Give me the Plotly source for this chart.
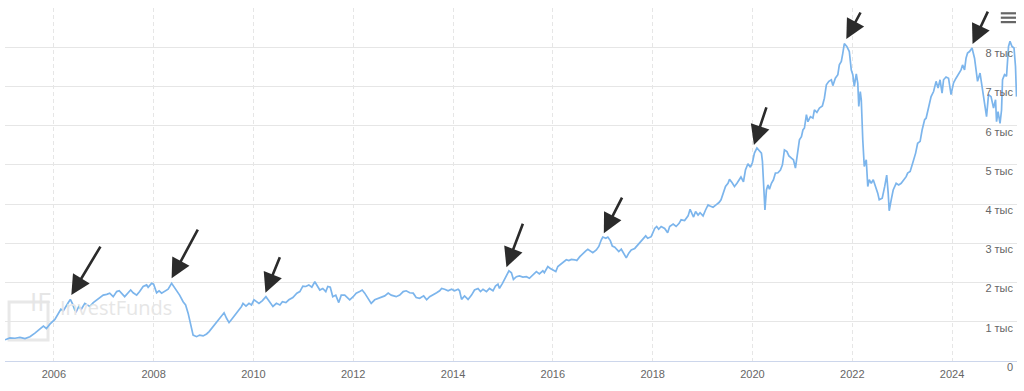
import datetime as dt
import plotly.graph_objects as go

# ---- data (decimal years, values) ----
years = [
    2005.02, 2005.12, 2005.22, 2005.32, 2005.42, 2005.52, 2005.62, 2005.72, 2005.79, 2005.85,
    2005.92, 2006.02, 2006.09, 2006.14, 2006.19, 2006.25, 2006.29, 2006.33, 2006.37, 2006.42,
    2006.45, 2006.50, 2006.55, 2006.62, 2006.67, 2006.72, 2006.79, 2006.86, 2006.92, 2006.99,
    2007.06, 2007.12, 2007.19, 2007.26, 2007.31, 2007.36, 2007.42, 2007.49, 2007.54, 2007.59,
    2007.66, 2007.72, 2007.79, 2007.86, 2007.89, 2007.96, 2008.00, 2008.06, 2008.11, 2008.16,
    2008.22, 2008.29, 2008.36, 2008.40, 2008.46, 2008.52, 2008.59, 2008.64, 2008.69, 2008.72,
    2008.76, 2008.79, 2008.86, 2008.92, 2008.99, 2009.06, 2009.11, 2009.16, 2009.23, 2009.29,
    2009.36, 2009.41, 2009.46, 2009.51, 2009.56, 2009.63, 2009.69, 2009.76, 2009.79, 2009.85,
    2009.91, 2009.96, 2010.01, 2010.06, 2010.11, 2010.18, 2010.25, 2010.29, 2010.34, 2010.39,
    2010.46, 2010.53, 2010.58, 2010.65, 2010.71, 2010.79, 2010.87, 2010.93, 2010.99, 2011.05,
    2011.11, 2011.17, 2011.23, 2011.27, 2011.33, 2011.39, 2011.45, 2011.49, 2011.54, 2011.59,
    2011.65, 2011.71, 2011.76, 2011.83, 2011.87, 2011.93, 2012.00, 2012.06, 2012.13, 2012.18,
    2012.23, 2012.30, 2012.36, 2012.43, 2012.50, 2012.56, 2012.63, 2012.70, 2012.76, 2012.86,
    2012.93, 2013.00, 2013.06, 2013.13, 2013.20, 2013.26, 2013.33, 2013.41, 2013.47, 2013.53,
    2013.60, 2013.67, 2013.73, 2013.77, 2013.83, 2013.90, 2013.97, 2014.03, 2014.10, 2014.13,
    2014.17, 2014.23, 2014.30, 2014.37, 2014.43, 2014.50, 2014.55, 2014.60, 2014.67, 2014.73,
    2014.80, 2014.85, 2014.90, 2014.93, 2014.99, 2015.03, 2015.08, 2015.12, 2015.17, 2015.21,
    2015.27, 2015.33, 2015.40, 2015.47, 2015.53, 2015.60, 2015.67, 2015.73, 2015.80, 2015.83,
    2015.90, 2015.95, 2016.00, 2016.06, 2016.10, 2016.17, 2016.22, 2016.27, 2016.32, 2016.37,
    2016.44, 2016.48, 2016.54, 2016.59, 2016.66, 2016.70, 2016.75, 2016.80, 2016.87, 2016.92,
    2016.97, 2017.00, 2017.06, 2017.10, 2017.15, 2017.19, 2017.24, 2017.28, 2017.32, 2017.37,
    2017.42, 2017.47, 2017.52, 2017.57, 2017.64, 2017.70, 2017.74, 2017.79, 2017.86, 2017.90,
    2017.97, 2018.04, 2018.08, 2018.12, 2018.17, 2018.24, 2018.30, 2018.34, 2018.41, 2018.47,
    2018.53, 2018.57, 2018.64, 2018.71, 2018.75, 2018.79, 2018.82, 2018.86, 2018.91, 2018.95,
    2019.01, 2019.06, 2019.11, 2019.15, 2019.21, 2019.27, 2019.33, 2019.37, 2019.41, 2019.46,
    2019.51, 2019.54, 2019.59, 2019.64, 2019.69, 2019.73, 2019.77, 2019.82, 2019.86, 2019.91,
    2019.96, 2020.00, 2020.04, 2020.09, 2020.13, 2020.18, 2020.20, 2020.22, 2020.25, 2020.28,
    2020.31, 2020.34, 2020.38, 2020.42, 2020.46, 2020.51, 2020.56, 2020.60, 2020.64, 2020.69,
    2020.73, 2020.78, 2020.82, 2020.86, 2020.91, 2020.94, 2020.98, 2021.01, 2021.04, 2021.08,
    2021.11, 2021.16, 2021.21, 2021.24, 2021.29, 2021.34, 2021.40, 2021.44, 2021.48, 2021.53,
    2021.58, 2021.61, 2021.66, 2021.71, 2021.74, 2021.78, 2021.81, 2021.84, 2021.89, 2021.94,
    2021.98, 2022.01, 2022.04, 2022.08, 2022.11, 2022.13, 2022.16, 2022.18, 2022.21, 2022.24,
    2022.28, 2022.31, 2022.34, 2022.38, 2022.42, 2022.46, 2022.51, 2022.54, 2022.60, 2022.65,
    2022.69, 2022.72, 2022.74, 2022.78, 2022.82, 2022.88, 2022.93, 2022.98, 2023.03, 2023.08,
    2023.11, 2023.16, 2023.21, 2023.27, 2023.31, 2023.36, 2023.40, 2023.45, 2023.48, 2023.53,
    2023.58, 2023.63, 2023.68, 2023.72, 2023.76, 2023.80, 2023.83, 2023.88, 2023.93, 2023.98,
    2024.03, 2024.08, 2024.13, 2024.18, 2024.21, 2024.25, 2024.28, 2024.31, 2024.35, 2024.40,
    2024.45, 2024.48, 2024.51, 2024.56, 2024.60, 2024.65, 2024.69, 2024.73, 2024.78, 2024.83,
    2024.87, 2024.89, 2024.92, 2024.96, 2024.99, 2025.01, 2025.05, 2025.09, 2025.13, 2025.16,
    2025.20, 2025.24, 2025.27, 2025.29,
]
values = [
    540, 590, 580, 600, 570, 620, 710, 820, 890, 830,
    940, 1060, 1220, 1320, 1280, 1430, 1490, 1570, 1470, 1300,
    1260, 1390, 1320, 1470, 1430, 1390, 1490, 1560, 1600, 1680,
    1700, 1730, 1640, 1770, 1790, 1710, 1640, 1740, 1810, 1740,
    1680, 1770, 1900, 1940, 1880, 1980, 1960, 1740, 1790, 1730,
    1770, 1830, 1980, 1900, 1810, 1680, 1510, 1430, 1220, 1050,
    790, 660, 620, 660, 640, 690, 750, 830, 960, 1050,
    1170, 1230, 1090, 980, 1060, 1170, 1260, 1390, 1470, 1400,
    1470, 1430, 1560, 1510, 1470, 1540, 1640, 1570, 1470, 1390,
    1470, 1430, 1510, 1490, 1560, 1620, 1730, 1770, 1910, 1900,
    1940, 1880, 2020, 1940, 1810, 1850, 1770, 1900, 1880, 1640,
    1680, 1490, 1680, 1680, 1640, 1560, 1640, 1730, 1770, 1810,
    1730, 1570, 1470, 1560, 1600, 1640, 1660, 1730, 1680, 1640,
    1680, 1770, 1790, 1740, 1730, 1620, 1600, 1660, 1560, 1640,
    1680, 1740, 1790, 1850, 1830, 1790, 1830, 1790, 1830, 1790,
    1570, 1660, 1570, 1680, 1810, 1850, 1770, 1830, 1770, 1850,
    1790, 1910, 1960, 1850, 1980, 2070, 2220, 2300, 2250, 2080,
    2150, 2170, 2140, 2150, 2110, 2190, 2280, 2220, 2300, 2250,
    2410, 2360, 2320, 2280, 2410, 2490, 2530, 2580, 2560, 2590,
    2580, 2560, 2660, 2730, 2810, 2850, 2810, 2760, 2830, 2920,
    3090, 3160, 3130, 3160, 3070, 2930, 2900, 2830, 2790, 2850,
    2750, 2630, 2750, 2830, 2870, 2960, 3030, 3090, 3190, 3130,
    3170, 3380, 3430, 3360, 3430, 3380, 3270, 3430, 3490, 3430,
    3510, 3600, 3580, 3700, 3870, 3750, 3670, 3810, 3720, 3780,
    3700, 3850, 3980, 3950, 3920, 3980, 4040, 4110, 4280, 4450,
    4530, 4630, 4550, 4450, 4530, 4630, 4690, 4570, 4870, 5030,
    4940, 5060, 5300, 5430, 5380, 5300, 5090, 4530, 3850, 4360,
    4490, 4380, 4530, 4620, 4790, 4800, 4870, 5000, 5380, 5340,
    5230, 5170, 5130, 4920, 5450, 5640, 5720, 5890, 5940, 6280,
    6100, 6230, 6190, 6400, 6340, 6450, 6500, 6700, 7040, 7130,
    7170, 7020, 7210, 7300, 7550, 7640, 7850, 8090, 8020, 7890,
    7420, 7300, 7000, 7320, 7080, 6490, 6870, 6660, 5640, 4960,
    5130, 4450, 4620, 4530, 4620, 4490, 4280, 4110, 4150, 4450,
    4740, 4280, 3830, 4110, 4360, 4530, 4490, 4530, 4620, 4700,
    4790, 4830, 5040, 5300, 5550, 5600, 5890, 6150, 6190, 6490,
    6740, 6870, 7130, 6960, 7170, 6830, 7170, 7240, 7210, 6790,
    7090, 7210, 7300, 7420, 7550, 7420, 7720, 7850, 7890, 7980,
    7720, 7380, 7130, 7340, 7000, 6660, 6230, 6790, 6740, 6450,
    6660, 6100, 6360, 6060, 6400, 7170, 7300, 7260, 8020, 8150,
    8020, 7980, 7510, 6740,
]

# arrows pointing at peaks: target (decimal year, value), tail offset in px
arrow_years = [2006.35, 2008.36, 2010.24, 2015.07, 2017.02, 2020.03, 2021.88, 2024.41]
arrow_values = [1680, 2110, 1740, 2390, 3260, 5510, 8210, 8080]
arrow_dx = [30, 27, 15, 17, 19, 13, 15, 16]
arrow_dy = [-50, -50, -37, -45, -37, -39, -28, -34]

y_tickvals = [0, 1000, 2000, 3000, 4000, 5000, 6000, 7000, 8000, 9000]
y_ticktext = ["0", "1 тыс", "2 тыс", "3 тыс", "4 тыс", "5 тыс", "6 тыс", "7 тыс", "8 тыс", ""]
x_range = [2005.02, 2025.30]


def to_date(y):
    yr = int(y)
    start = dt.datetime(yr, 1, 1)
    days = 366 if (yr % 4 == 0) else 365
    return start + dt.timedelta(days=(y - yr) * days)


dates = [to_date(y) for y in years]

fig = go.Figure()
fig.add_trace(go.Scatter(
    x=dates, y=values, mode="lines",
    line=dict(color="#7cb5ec", width=1.7),
    hoverinfo="skip", showlegend=False,
))

for ay_, av, dx, dy in zip(arrow_years, arrow_values, arrow_dx, arrow_dy):
    fig.add_annotation(
        x=to_date(ay_), y=av, ax=dx, ay=dy, text="",
        showarrow=True, arrowhead=2, arrowsize=1.5, arrowwidth=2.6,
        arrowcolor="#2b2b2b", standoff=0,
    )

# watermark logo + name
fig.add_shape(type="rect", xref="paper", yref="paper",
              x0=0.004, x1=0.0425, y0=0.0595, y1=0.167,
              line=dict(color="#e8e8e8", width=3), layer="below")
fig.add_annotation(
    xref="paper", yref="paper", x=0.0232, y=0.113, text="IF",
    showarrow=False, font=dict(family="Open Sans", size=26, color="#e6e6e6"),
)
fig.add_annotation(
    xref="paper", yref="paper", x=0.052, y=0.108, xanchor="left", text="InvestFunds",
    showarrow=False, font=dict(family="Open Sans", size=20, color="#e6e6e6"),
)

# hamburger menu icon
for yy in [0.985, 0.9725, 0.960]:
    fig.add_shape(type="line", xref="paper", yref="paper",
                  x0=0.984, x1=0.999, y0=yy, y1=yy,
                  line=dict(color="#666666", width=2.2))

fig.update_layout(
    width=1024, height=391,
    margin=dict(l=5, r=7, t=8, b=30),
    paper_bgcolor="white", plot_bgcolor="white",
    font=dict(family="Liberation Sans", size=11, color="#666666"),
    xaxis=dict(
        type="date",
        range=[to_date(x_range[0]), to_date(x_range[1])],
        tick0="2006-01-01", dtick="M24", tickformat="%Y",
        showgrid=True, gridcolor="#e6e6e6", griddash="4px,3px", gridwidth=1,
        showline=True, linecolor="#ccd6eb", linewidth=1,
        ticks="", zeroline=False, ticklabelstandoff=3,
        tickfont=dict(size=11, color="#666666"),
    ),
    yaxis=dict(
        range=[0, 9000], side="right",
        tickvals=y_tickvals, ticktext=y_ticktext,
        ticklabelposition="inside", ticklabelshift=6, ticklabelstandoff=1,
        ticklabeloverflow="allow",
        showgrid=True, gridcolor="#e6e6e6", gridwidth=1,
        zeroline=False, showline=False, ticks="",
        tickfont=dict(size=11, color="#666666"),
    ),
)

fig.write_html("out.html", config={"displayModeBar": False},
               post_script="document.body.style.margin='0';")
